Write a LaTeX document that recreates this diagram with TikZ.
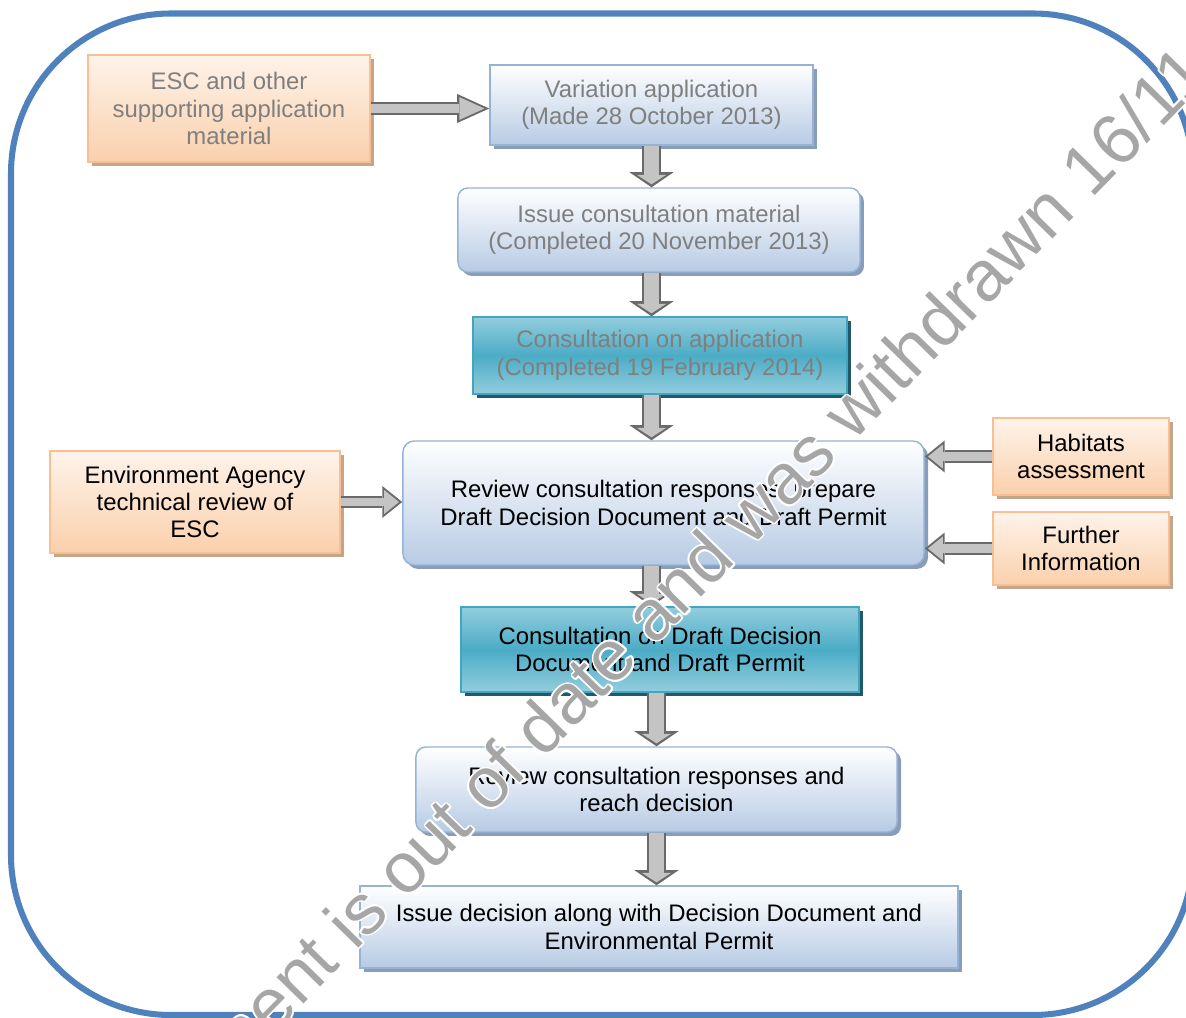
\documentclass[tikz,border=0pt]{standalone}
\usepackage{fontspec}
\setmainfont{Liberation Sans}
\usepackage{xcolor}
\usepackage{contour}
\contourlength{1.2pt}
\usetikzlibrary{arrows.meta,shadows}

\definecolor{framecol}{HTML}{4F81BD}
\definecolor{orangetop}{HTML}{FEF3EA}
\definecolor{orangebot}{HTML}{FAD0AC}
\definecolor{orangeline}{HTML}{F9BE91}
\definecolor{orangeshade}{HTML}{C2A68C}
\definecolor{bluebot}{HTML}{B7CBE4}
\definecolor{blueline}{HTML}{95B3D7}
\definecolor{blueshade}{HTML}{8A9DB8}
\definecolor{tealout}{HTML}{93CDDD}
\definecolor{tealmid}{HTML}{4BACC6}
\definecolor{tealline}{HTML}{42A6C1}
\definecolor{tealshade}{HTML}{215968}
\definecolor{greytxt}{HTML}{7F7F7F}
\definecolor{arrowfill}{HTML}{C4C4C4}
\definecolor{arrowline}{HTML}{6A6A6A}
\definecolor{wmgrey}{HTML}{A6A6A6}

\tikzset{
  box/.style={draw, line width=1pt, align=center, inner sep=2pt,
    font=\fontsize{17}{19.5}\selectfont},
  orangebox/.style={box, draw=orangeline, top color=orangetop, bottom color=orangebot,
    drop shadow={shadow xshift=2.8pt, shadow yshift=-2.8pt, fill=orangeshade, opacity=1}},
  bluebox/.style={box, draw=blueline, top color=white, bottom color=bluebot,
    drop shadow={shadow xshift=2.8pt, shadow yshift=-2.8pt, fill=blueshade, opacity=1}},
  tealbox/.style={box, draw=tealline, top color=tealout, bottom color=tealout, middle color=tealmid,
    drop shadow={shadow xshift=2.8pt, shadow yshift=-2.8pt, fill=tealshade, opacity=1}},
  varrow/.style={draw=arrowline, line width=14.2pt,
    -{Triangle[length=10.7pt, width=31.3pt, line width=0pt]},
    postaction={draw=arrowfill, line width=10.7pt, shorten >=2.1pt,
      -{Triangle[length=6.8pt, width=21pt, line width=0pt]}}},
  harrow/.style={draw=arrowline, line width=9.2pt,
    -{Triangle[length=14.2pt, width=22.8pt, line width=0pt]},
    postaction={draw=arrowfill, line width=6.2pt, shorten >=2.3pt,
      -{Triangle[length=10.5pt, width=17pt, line width=0pt]}}},
  harrowlong/.style={draw=arrowline, line width=9.2pt,
    -{Triangle[length=22.8pt, width=20.6pt, line width=0pt]},
    postaction={draw=arrowfill, line width=6.2pt, shorten >=3.4pt,
      -{Triangle[length=17.9pt, width=16.2pt, line width=0pt]}}}
}

\begin{document}
\begin{tikzpicture}[x=0.025cm, y=-0.025cm]
  \useasboundingbox (0,0) rectangle (1186,1018);
  \clip (0,0) rectangle (1186,1018);
  \draw[draw=framecol, line width=4.3pt, rounded corners=4cm] (11,13.5) rectangle (1193,1015);

  \node[orangebox, text=greytxt, minimum width=7.05cm, minimum height=2.675cm] (esc) at (229,108.5) {ESC and other\\supporting application\\material};
  \node[bluebox, text=greytxt, minimum width=8.075cm, minimum height=2cm] (var) at (651.5,105) {Variation application\\(Made 28 October 2013)};
  \node[bluebox, text=greytxt, rounded corners=7pt, minimum width=10.05cm, minimum height=2.1cm] (issue) at (659,230) {Issue consultation material\\(Completed 20 November 2013)};
  \node[tealbox, text=greytxt, minimum width=9.35cm, minimum height=1.925cm] (consult) at (660,355.5) {Consultation on application\\(Completed 19 February 2014)};
  \node[bluebox, rounded corners=8pt, minimum width=13.025cm, minimum height=3.1cm] (review) at (663.5,503) {Review consultation responses, prepare\\Draft Decision Document and Draft Permit};
  \node[orangebox, minimum width=7.25cm, minimum height=2.55cm] (ea) at (195,502) {Environment Agency\\technical review of\\ESC};
  \node[orangebox, minimum width=4.4cm, minimum height=1.925cm] (hab) at (1081,456.5) {Habitats\\assessment};
  \node[orangebox, minimum width=4.4cm, minimum height=1.825cm] (further) at (1081,548.5) {Further\\Information};
  \node[tealbox, minimum width=9.95cm, minimum height=2.125cm] (draft) at (660,649.5) {Consultation on Draft Decision\\Document and Draft Permit};
  \node[bluebox, rounded corners=7pt, minimum width=12.025cm, minimum height=2.125cm] (review2) at (656.5,789.5) {Review consultation responses and\\reach decision};
  \node[bluebox, minimum width=14.95cm, minimum height=2.05cm] (final) at (659,927) {Issue decision along with Decision Document and\\Environmental Permit};

  \draw[harrowlong] (esc.east) -- (esc.east -| var.west);
  \draw[varrow] (var.south) -- (var.south |- issue.north);
  \draw[varrow] (issue.south -| var.south) -- (var.south |- consult.north);
  \draw[varrow] (consult.south -| var.south) -- (var.south |- review.north);
  \draw[harrow] (ea.east) -- (ea.east -| review.west);
  \draw[harrow] (hab.west) -- (hab.west -| review.east);
  \draw[harrow] (further.west) -- (further.west -| review.east);
  \draw[varrow] (review.south -| var.south) -- (var.south |- draft.north);
  \draw[varrow] (draft.south -| review2.north) -- (review2.north);
  \draw[varrow] (review2.south) -- (review2.south |- final.north);

  \node[text=wmgrey, font=\fontsize{50.6}{55}\selectfont, inner sep=0pt, anchor=base west, rotate=45.6] (wm) at (15,1299) {\contour{white}{This document is out of date and was withdrawn 16/11}};
\end{tikzpicture}
\end{document}
